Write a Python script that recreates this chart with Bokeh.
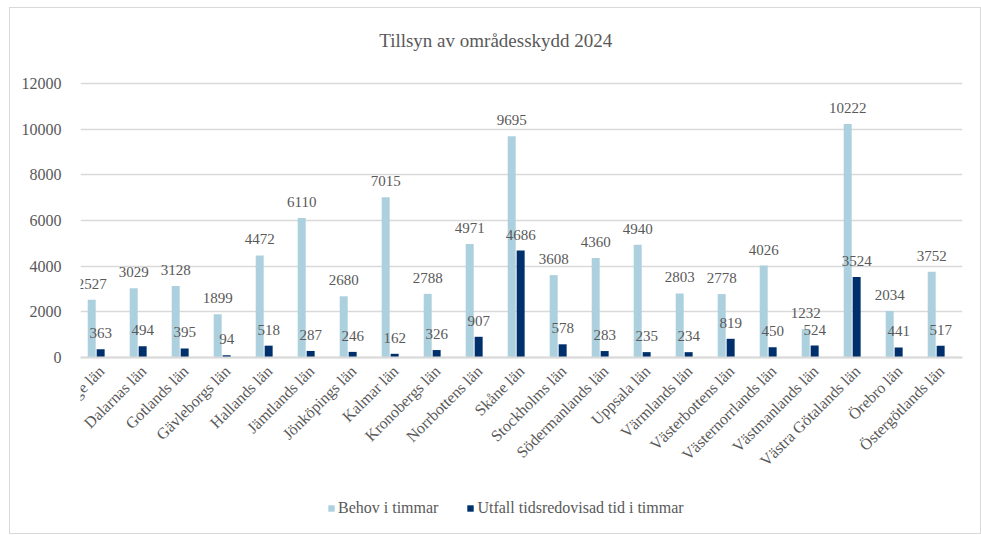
from bokeh.plotting import figure
from bokeh.models import (ColumnDataSource, Range1d, Legend, LegendItem, FixedTicker,
                          LabelSet)
from bokeh.transform import dodge
from bokeh.embed import file_html
from bokeh.resources import INLINE

counties = ["Blekinge län", "Dalarnas län", "Gotlands län", "Gävleborgs län", "Hallands län",
            "Jämtlands län", "Jönköpings län", "Kalmar län", "Kronobergs län", "Norrbottens län",
            "Skåne län", "Stockholms län", "Södermanlands län", "Uppsala län", "Värmlands län",
            "Västerbottens län", "Västernorrlands län", "Västmanlands län", "Västra Götalands län",
            "Örebro län", "Östergötlands län"]
behov = [2527, 3029, 3128, 1899, 4472, 6110, 2680, 7015, 2788, 4971, 9695, 3608, 4360, 4940,
         2803, 2778, 4026, 1232, 10222, 2034, 3752]
utfall = [363, 494, 395, 94, 518, 287, 246, 162, 326, 907, 4686, 578, 283, 235, 234, 819, 450,
          524, 3524, 441, 517]
y_ticks = [0, 2000, 4000, 6000, 8000, 10000, 12000]
title_text = "Tillsyn  av områdesskydd  2024"

FONT = "Liberation Serif"
TXT = "#595959"
LIGHT = "#ADD0DE"
DARK = "#00306B"
GRID = "#D9D9D9"

# The frame spans the whole chart box (title area above, label/legend area below);
# the category axis is pinned at y = 0 inside it.
PX_ABOVE = 332        # pixels from y=0 up to the frame top
PX_BELOW = 168        # pixels from y=0 down to the frame bottom
AXIS_H = 274          # pixels between 0 and 12000
y_top = y_ticks[-1] * PX_ABOVE / AXIS_H
y_bot = -y_ticks[-1] * PX_BELOW / AXIS_H

src = ColumnDataSource(dict(c=counties, b=behov, u=utfall,
                            bl=[str(v) for v in behov], ul=[str(v) for v in utfall]))

p = figure(x_range=counties, y_range=Range1d(y_bot, y_top),
           frame_width=882, frame_height=PX_ABOVE + PX_BELOW,
           output_backend="svg", toolbar_location=None,
           min_border_left=70, min_border_right=18, min_border_top=17, min_border_bottom=8)
p.styles = {"border": "1px solid #D9D9D9", "margin-left": "9px", "margin-top": "7px"}

tsrc = ColumnDataSource(dict(x=[counties[10]], y=[y_ticks[-1]], t=[title_text]))
p.add_layout(LabelSet(x="x", y="y", text="t", source=tsrc, text_font=FONT,
                      text_font_size="19px", text_color=TXT, text_align="center",
                      text_baseline="middle", x_offset=-21, y_offset=43))

p.outline_line_color = None
p.xgrid.grid_line_color = None
p.ygrid.grid_line_color = GRID
p.ygrid.grid_line_width = 1.5

W = 0.19
xb = dodge("c", -0.233, range=p.x_range)
xu = dodge("c", -0.02, range=p.x_range)
r1 = p.vbar(x=xb, top="b", width=W, bottom=0, source=src, fill_color=LIGHT, line_color=None)
r2 = p.vbar(x=xu, top="u", width=W, bottom=0, source=src, fill_color=DARK, line_color=None)

for xs, ys, ts in ((xb, "b", "bl"), (xu, "u", "ul")):
    p.add_layout(LabelSet(x=xs, y=ys, text=ts, source=src, text_font=FONT,
                          text_font_size="15px", text_color=TXT, text_align="center",
                          text_baseline="bottom", y_offset=11))

xa = p.xaxis[0]
ya = p.yaxis[0]
ya.ticker = FixedTicker(ticks=y_ticks)
for ax in (xa, ya):
    ax.major_label_text_font = FONT
    ax.major_label_text_font_size = "16px"
    ax.major_label_text_color = TXT
    ax.major_tick_line_color = None
    ax.minor_tick_line_color = None

ya.axis_line_color = None
ya.major_label_standoff = 13
xa.fixed_location = 0
xa.axis_line_color = GRID
xa.axis_line_width = 2
xa.major_label_orientation = 0.785398
xa.major_label_standoff = 5

legend = Legend(items=[LegendItem(label="Behov i timmar", renderers=[r1]),
                       LegendItem(label="Utfall tidsredovisad tid i timmar", renderers=[r2])],
                orientation="horizontal", location=(247, 8),
                glyph_width=8, glyph_height=8, label_standoff=3, spacing=28,
                padding=0, margin=0, border_line_color=None, background_fill_alpha=0,
                label_text_font=FONT, label_text_font_size="16px", label_text_color=TXT,
                label_height=15)
p.add_layout(legend, "center")

open("out.html", "w").write(file_html(p, INLINE))
